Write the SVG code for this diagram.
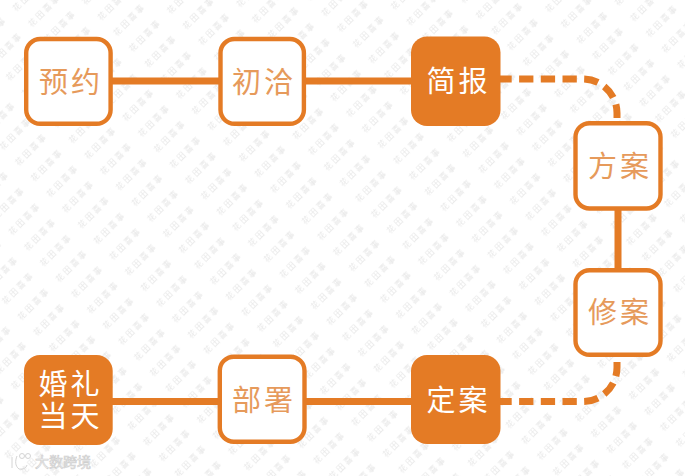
<svg xmlns="http://www.w3.org/2000/svg" width="685" height="476" viewBox="0 0 685 476">
<style>
.box{fill:#fff;stroke:#e47b25;stroke-width:4.4}
.solid{fill:#e47b25}
.t{font-family:"Noto Sans CJK SC","Noto Sans",sans-serif;font-size:29px;text-anchor:middle;letter-spacing:3px;fill:#e69a5b}
.c{fill:none;stroke:#e47b25;stroke-width:7}
.d{stroke-dasharray:14.3 7.4}
.wm{font-family:"Noto Sans CJK SC",sans-serif;font-size:8px;letter-spacing:2.4px;fill:#e6e6e6}
.logo{fill:none;stroke:#d4d4d4;stroke-width:1}
</style>
<defs>
<pattern id="wm" width="53.7" height="22.2" patternUnits="userSpaceOnUse" patternTransform="rotate(-45) translate(-2.850 4.900)">
<text class="wm" x="6" y="14">花田喜事</text>
</pattern>
</defs>
<rect width="685" height="476" fill="#fff"/>
<rect id="watermark" width="685" height="476" fill="url(#wm)"/>
<g id="logo">
<path class="logo" d="M12 457V468M17 456C15 461 15 466 19 469C23 470 26 468 27 465"/>
<circle class="logo" cx="22" cy="456" r="2.500"/>
<circle class="logo" cx="28" cy="456" r="2.500"/>
<text x="35" y="467" font-family="'Noto Sans CJK SC',sans-serif" font-size="14" fill="#fff" stroke="#cfcfcf" stroke-width="0.7">大数跨境</text>
</g>
<g id="connectors">
<path class="c" d="M110 81H220M304 81H413M110 401.500H220M304 401.500H413M618 208V270"/>
<path class="c d" d="M497.400 79H583A34 34 0 0 1 617 113V118"/>
<path class="c d" d="M497.400 401.500H583A34 34 0 0 0 617 367.500V362"/>
</g>
<g id="n1"><rect class="box" x="26.200" y="39" width="84.400" height="84.800" rx="14"/><text class="t" x="71" y="92.500">预约</text></g>
<g id="n2"><rect class="box" x="220.500" y="39" width="83.400" height="84.800" rx="14"/><text class="t" x="264" y="92.500">初洽</text></g>
<g id="n3"><rect class="solid" x="411" y="36.500" width="89.500" height="89.500" rx="16"/><text class="t" style="fill:#fff" x="458.500" y="92">简报</text></g>
<g id="n4"><rect class="box" x="575.500" y="123.200" width="85" height="85.300" rx="14"/><text class="t" x="620" y="177">方案</text></g>
<g id="n5"><rect class="box" x="575.500" y="270.200" width="85" height="84.600" rx="14"/><text class="t" x="620" y="323">修案</text></g>
<g id="n6"><rect class="solid" x="411" y="355" width="89.500" height="89" rx="16"/><text class="t" style="fill:#fff" x="458.500" y="411">定案</text></g>
<g id="n7"><rect class="box" x="219.800" y="356.700" width="84.700" height="85" rx="14"/><text class="t" x="264" y="411">部署</text></g>
<g id="n8"><rect class="solid" x="24" y="355" width="88.700" height="90" rx="16"/><text class="t" style="fill:#fff" x="70.500" y="395">婚礼<tspan x="70.500" dy="31.500">当天</tspan></text></g>
</svg>
